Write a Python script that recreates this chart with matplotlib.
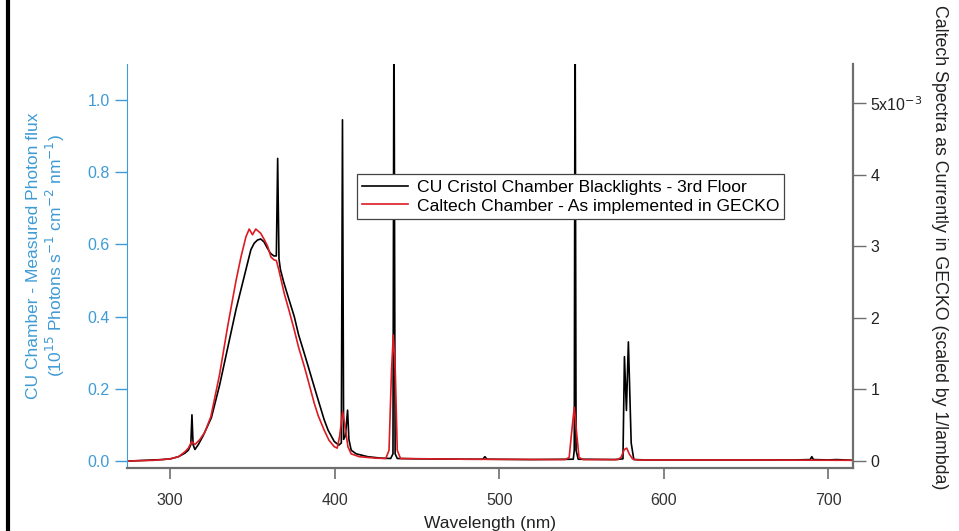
import numpy as np
import matplotlib
matplotlib.use('Agg')
import matplotlib.pyplot as plt
from matplotlib.lines import Line2D

plt.rcParams['font.family'] = ['Liberation Sans', 'DejaVu Sans']

# CU Cristol chamber blacklights (left axis, 1e15 photons s-1 cm-2 nm-1)
wl_cu = [275, 285, 295, 300, 305, 309, 311, 312.5, 313.2, 313.9, 315, 317, 320, 325,
         330, 335, 340, 343, 346, 349, 351, 353, 355, 357, 359, 361, 363, 364.5,
         365.3, 366.1, 367, 369, 372, 375.4, 378, 381.5, 384, 387.5, 390, 393.6,
         396, 399.7, 402.5, 404, 404.7, 405.4, 406.5, 407.8, 408.6, 410, 413, 420,
         428, 434, 435.4, 436.0, 436.7, 438, 450, 480, 490, 491.3, 492.5, 520,
         545, 545.6, 546.1, 546.7, 548, 570, 575.2, 576.1, 577.3, 578.5, 580.2,
         581.8, 590, 620, 680, 689, 690, 691, 700, 705, 715]
flux_cu = [0.0, 0.002, 0.004, 0.006, 0.012, 0.022, 0.03, 0.045, 0.128, 0.045, 0.032,
           0.045, 0.07, 0.12, 0.21, 0.315, 0.42, 0.475, 0.53, 0.585, 0.603, 0.612,
           0.615, 0.607, 0.59, 0.575, 0.568, 0.568, 0.838, 0.56, 0.53, 0.495, 0.45,
           0.40, 0.35, 0.298, 0.26, 0.206, 0.168, 0.114, 0.085, 0.054, 0.044, 0.05,
           0.945, 0.06, 0.07, 0.141, 0.06, 0.03, 0.02, 0.012, 0.008, 0.007, 0.02,
           1.30, 0.02, 0.007, 0.006, 0.005, 0.005, 0.012, 0.005, 0.004, 0.005, 0.03,
           1.30, 0.03, 0.005, 0.004, 0.006, 0.289, 0.14, 0.33, 0.05, 0.004, 0.003,
           0.003, 0.003, 0.004, 0.012, 0.004, 0.003, 0.004, 0.002]

# Caltech chamber spectrum as in GECKO (right axis, units of 1e-3)
wl_ct = [275, 290, 300, 305, 309, 311, 313, 315, 318, 321, 324.7, 330, 334.9, 340,
         343, 346, 348, 350, 352, 355, 357, 359.2, 361.2, 363, 364.5, 366, 369.3,
         372, 375.4, 378, 381.5, 384, 387.5, 390, 393.6, 396.5, 399.7, 401.5, 403,
         404.8, 406.5, 408, 410, 415, 425, 431, 433, 434.5, 435.6, 436.8, 438, 440,
         480, 540, 542.5, 544, 545.6, 547, 548.5, 551, 572, 574, 576, 577.5, 579,
         581, 584, 650, 715]
spec_ct = [0.0, 0.01, 0.03, 0.06, 0.13, 0.18, 0.27, 0.23, 0.30, 0.40, 0.62, 1.21,
           1.88, 2.52, 2.85, 3.13, 3.24, 3.16, 3.24, 3.18, 3.10, 3.0, 2.85, 2.81,
           2.80, 2.67, 2.34, 2.12, 1.83, 1.59, 1.32, 1.11, 0.81, 0.63, 0.43, 0.29,
           0.20, 0.18, 0.35, 0.69, 0.45, 0.2, 0.10, 0.06, 0.04, 0.035, 0.15, 1.26,
           1.76, 1.26, 0.15, 0.035, 0.025, 0.02, 0.05, 0.40, 0.75, 0.40, 0.05, 0.02,
           0.02, 0.05, 0.16, 0.18, 0.10, 0.03, 0.015, 0.015, 0.01]

left_ticks = [0.0, 0.2, 0.4, 0.6, 0.8, 1.0]
right_ticks = [0, 1, 2, 3, 4, 5]
right_labels = ['0', '1', '2', '3', '4', '5x10$^{-3}$']
x_ticks = [300, 400, 500, 600, 700]

blue = '#3f9bd5'
gray = '#6e6e6e'

fig = plt.figure(figsize=(9.59, 5.31), dpi=100)
ax = fig.add_axes([0.1324, 0.1186, 0.757, 0.7609])
ax2 = ax.twinx()

ax.plot(wl_cu, flux_cu, color='black', lw=1.2,
        label='CU Cristol Chamber Blacklights - 3rd Floor')
ax2.plot(wl_ct, spec_ct, color='#dc1c22', lw=1.2,
         label='Caltech Chamber - As implemented in GECKO')

ax.set_xlim(273.7, 715)
ax.set_ylim(-0.0194, 1.0997)
ax2.set_ylim(-0.0978, 5.545)

ax.set_xticks(x_ticks)
ax.set_yticks(left_ticks)
ax.set_yticklabels([f'{v:.1f}' for v in left_ticks])
ax2.set_yticks(right_ticks)
ax2.set_yticklabels(right_labels)

for a in (ax, ax2):
    a.spines['top'].set_visible(False)
ax2.spines['left'].set_visible(False)
ax2.spines['bottom'].set_visible(False)
ax.spines['right'].set_visible(False)
ax.spines['left'].set_color(blue)
ax.spines['bottom'].set_color(gray)
ax.spines['bottom'].set_linewidth(1.6)
ax2.spines['right'].set_color(gray)
ax2.spines['right'].set_linewidth(1.6)

ax.tick_params(axis='y', colors=blue, labelsize=11.5, length=9, width=1.0, direction='out')
ax.tick_params(axis='x', colors=gray, labelcolor='#333333', labelsize=11.5,
               length=8, width=1.2, direction='out', pad=10)
ax2.tick_params(axis='y', colors=gray, labelcolor='#222222', labelsize=11.5,
                length=9, width=1.0, direction='out')

ax.set_xlabel('Wavelength (nm)', fontsize=12.5, color='#222222', labelpad=6)
ax.set_ylabel('CU Chamber - Measured Photon flux\n'
              '(10$^{15}$ Photons s$^{-1}$ cm$^{-2}$ nm$^{-1}$)',
              fontsize=12.5, color=blue, linespacing=1.15)
ax.yaxis.set_label_coords(-0.083, 0.525)
fig.text(0.98, 0.535, 'Caltech Spectra as Currently in GECKO (scaled by 1/lambda)',
         rotation=270, fontsize=12.8, color='#222222', ha='center', va='center')

h1, l1 = ax.get_legend_handles_labels()
h2, l2 = ax2.get_legend_handles_labels()
leg = ax2.legend(h1 + h2, l1 + l2, loc='upper left', bbox_to_anchor=(0.317, 0.727),
                 fontsize=12.6, frameon=True, fancybox=False, framealpha=1,
                 edgecolor='#444444', borderpad=0.3, handlelength=2.6,
                 handletextpad=0.5, labelspacing=0.2, borderaxespad=0)
leg.get_frame().set_linewidth(0.9)

fig.add_artist(Line2D([0.008, 0.008], [0, 1], transform=fig.transFigure,
                      color='black', lw=3))

fig.savefig('out.png', dpi=100)
